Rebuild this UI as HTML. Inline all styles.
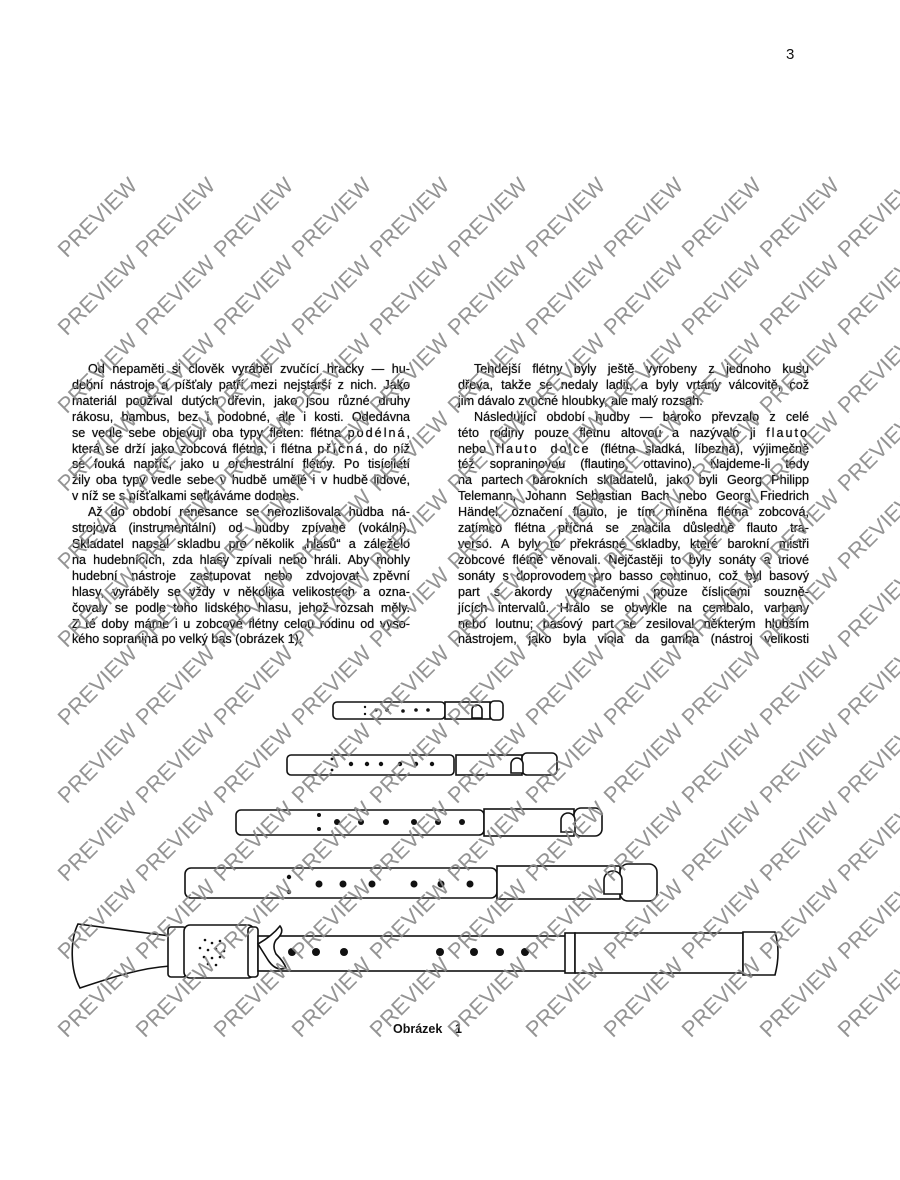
<!DOCTYPE html>
<html><head><meta charset="utf-8"><style>
html,body{margin:0;padding:0;background:#fff;}
body{width:900px;height:1180px;position:relative;overflow:hidden;font-family:"Liberation Sans",Arial,sans-serif;color:#111;}
.col{position:absolute;top:362px;font-size:12.6px;line-height:15.9px;text-shadow:0 0 0.6px #000;}
.col div{text-align:justify;text-align-last:justify;white-space:nowrap;}
.col div.l{text-align-last:left;}
.col div.i{text-indent:16px;}
.sp{letter-spacing:2px;}
#c1{left:72px;width:338px;}
#c2{left:458px;width:351px;}
svg{position:absolute;left:0;top:0;}
</style></head><body>
<div style="position:absolute;left:786px;top:46px;font-size:15px;">3</div>

<div class="col" id="c1">
<div class="i">Od nepaměti si člověk vyráběl zvučící hračky — hu-</div>
<div>dební nástroje a píšťaly patří mezi nejstarší z nich. Jako</div>
<div>materiál používal dutých dřevin, jako jsou různé druhy</div>
<div>rákosu, bambus, bez i podobné, ale i kosti. Odedávna</div>
<div>se vedle sebe objevují oba typy fléten: flétna <span class="sp">podélná</span>,</div>
<div>která se drží jako zobcová flétna, i flétna <span class="sp">příčná</span>, do níž</div>
<div>se fouká napříč, jako u orchestrální flétny. Po tisíciletí</div>
<div>žily oba typy vedle sebe v hudbě umělé i v hudbě lidové,</div>
<div class="l">v níž se s píšťalkami setkáváme dodnes.</div>
<div class="i">Až do období renesance se nerozlišovala hudba ná-</div>
<div>strojová (instrumentální) od hudby zpívané (vokální).</div>
<div>Skladatel napsal skladbu pro několik „hlasů“ a záleželo</div>
<div>na hudebnících, zda hlasy zpívali nebo hráli. Aby mohly</div>
<div>hudební nástroje zastupovat nebo zdvojovat zpěvní</div>
<div>hlasy, vyráběly se vždy v několika velikostech a ozna-</div>
<div>čovaly se podle toho lidského hlasu, jehož rozsah měly.</div>
<div>Z té doby máme i u zobcové flétny celou rodinu od vyso-</div>
<div class="l">kého sopranina po velký bas (obrázek 1).</div>
</div>

<div class="col" id="c2">
<div class="i">Tehdejší flétny byly ještě vyrobeny z jednoho kusu</div>
<div>dřeva, takže se nedaly ladit, a byly vrtány válcovitě, což</div>
<div class="l">jim dávalo zvučné hloubky, ale malý rozsah.</div>
<div class="i">Následující období hudby — baroko převzalo z celé</div>
<div>této rodiny pouze flétnu altovou a nazývalo ji <span class="sp">flauto</span></div>
<div>nebo <span class="sp">flauto dolce</span> (flétna sladká, líbezná), výjimečně</div>
<div>též sopraninovou (flautino, ottavino). Najdeme-li tedy</div>
<div>na partech barokních skladatelů, jako byli Georg Philipp</div>
<div>Telemann, Johann Sebastian Bach nebo Georg Friedrich</div>
<div>Händel, označení flauto, je tím míněna flétna zobcová,</div>
<div>zatímco flétna příčná se značila důsledně flauto tra-</div>
<div>verso. A byly to překrásné skladby, které barokní mistři</div>
<div>zobcové flétně věnovali. Nejčastěji to byly sonáty a triové</div>
<div>sonáty s doprovodem pro basso continuo, což byl basový</div>
<div>part s akordy vyznačenými pouze číslicemi souzně-</div>
<div>jících intervalů. Hrálo se obvykle na cembalo, varhany</div>
<div>nebo loutnu; basový part se zesiloval některým hlubším</div>
<div>nástrojem, jako byla viola da gamba (nástroj velikosti</div>
</div>

<svg width="900" height="1180" viewBox="0 0 900 1180">
<g fill="#fff" stroke="#111" stroke-width="1.6">
 <rect x="333" y="702" width="112" height="17" rx="4"/>
 <rect x="445" y="702" width="45" height="17"/>
 <rect x="490" y="701" width="13" height="19" rx="4"/>
 <path d="M482 718 v-8 a5 5 0 0 0 -10 0 v8 z"/>
 <rect x="287" y="755" width="167" height="20" rx="4"/>
 <rect x="456" y="755" width="66" height="20"/>
 <rect x="522" y="753" width="35" height="22" rx="5"/>
 <path d="M523 773 v-9 a6 6 0 0 0 -12 0 v9 z"/>
 <rect x="236" y="810" width="248" height="25" rx="5"/>
 <rect x="484" y="809" width="90" height="27"/>
 <rect x="574" y="808" width="28" height="28" rx="7"/>
 <path d="M575 832 v-12 a7 7 0 0 0 -14 0 v12 z"/>
 <rect x="185" y="868" width="312" height="30" rx="6"/>
 <rect x="497" y="866" width="123" height="33"/>
 <rect x="620" y="864" width="37" height="37" rx="8"/>
 <path d="M622 894 v-14 a9 9 0 0 0 -18 0 v14 z"/>
 <path d="M78 924 C110 928 140 932 170 936 L170 966 C140 968 110 978 80 988 C70 970 70 940 78 924 Z"/>
 <rect x="168" y="927" width="18" height="50" rx="3"/>
 <rect x="184" y="925" width="70" height="53" rx="6"/>
 <rect x="248" y="927" width="10" height="50" rx="3"/>
 <rect x="258" y="936" width="308" height="35"/>
 <rect x="565" y="933" width="10" height="40"/>
 <rect x="575" y="933" width="168" height="40"/>
 <path d="M743 932 h32 q6 20 0 43 h-32 z"/>
 <path d="M258 944 q14 -8 22 -18 q5 6 -4 14 q-4 6 0 14 q8 8 10 14 q-10 4 -18 -8 z"/>
</g>
<g fill="#111">
 <circle cx="365" cy="707" r="1.2"/><circle cx="365" cy="714" r="1.2"/>
 <circle cx="376" cy="710" r="1.6"/><circle cx="387" cy="710" r="1.8"/><circle cx="403" cy="711" r="1.8"/><circle cx="416" cy="710" r="1.8"/><circle cx="428" cy="710" r="1.8"/>
 <circle cx="332" cy="759" r="1.4"/><circle cx="332" cy="770" r="1.4"/>
 <circle cx="351" cy="764" r="2.2"/><circle cx="367" cy="764" r="2.2"/><circle cx="381" cy="764" r="2.2"/><circle cx="400" cy="764" r="2.2"/><circle cx="416" cy="764" r="2.2"/><circle cx="432" cy="764" r="2.2"/>
 <circle cx="319" cy="815" r="2"/><circle cx="319" cy="829" r="2"/>
 <circle cx="337" cy="822" r="3"/><circle cx="361" cy="822" r="3"/><circle cx="386" cy="822" r="3"/><circle cx="414" cy="822" r="3"/><circle cx="438" cy="822" r="3"/><circle cx="462" cy="822" r="3"/>
 <circle cx="289" cy="877" r="2.2"/><circle cx="289" cy="892" r="2.2"/>
 <circle cx="319" cy="884" r="3.5"/><circle cx="343" cy="884" r="3.5"/><circle cx="372" cy="884" r="3.5"/><circle cx="414" cy="884" r="3.5"/><circle cx="441" cy="884" r="3.5"/><circle cx="470" cy="884" r="3.5"/>
 <circle cx="292" cy="952" r="4"/><circle cx="316" cy="952" r="4"/><circle cx="344" cy="952" r="4"/><circle cx="440" cy="952" r="4"/><circle cx="474" cy="952" r="4"/><circle cx="500" cy="952" r="4"/><circle cx="525" cy="952" r="4"/>
 <circle cx="205" cy="940" r="1.3"/><circle cx="212" cy="943" r="1.3"/><circle cx="220" cy="941" r="1.3"/><circle cx="200" cy="948" r="1.3"/><circle cx="208" cy="950" r="1.3"/><circle cx="216" cy="949" r="1.3"/><circle cx="224" cy="951" r="1.3"/><circle cx="204" cy="957" r="1.3"/><circle cx="212" cy="958" r="1.3"/><circle cx="220" cy="957" r="1.3"/><circle cx="208" cy="964" r="1.3"/><circle cx="216" cy="965" r="1.3"/>
</g>
<text x="393" y="1033" font-family="Liberation Sans, Arial, sans-serif" font-size="12.5" font-weight="bold" fill="#111">Obrázek</text>
<text x="455" y="1033" font-family="Liberation Sans, Arial, sans-serif" font-size="12.5" font-weight="bold" fill="#111">1</text>
<g font-family="Liberation Sans, Arial, sans-serif" font-size="22" fill="#888" fill-opacity="0.9" text-anchor="middle" id="wm">
</g>
</svg>
<script>
var g=document.getElementById('wm'),s='';
for(var r=0;r<11;r++){for(var c=0;c<11;c++){var x=97+c*78,y=217+r*78;
s+='<text x="'+x+'" y="'+(y+8)+'" transform="rotate(-45 '+x+' '+y+')">PREVIEW</text>';}}
g.innerHTML=s;
</script>
</body></html>
